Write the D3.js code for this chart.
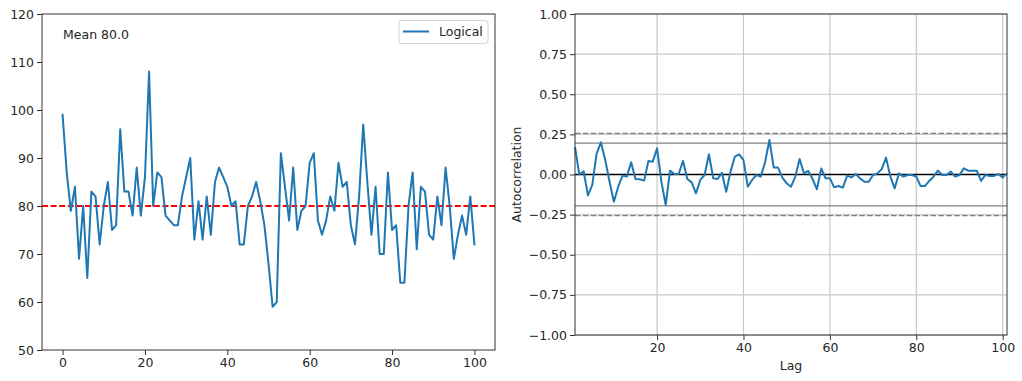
<!DOCTYPE html>
<meta charset="utf-8">
<script src="https://cdn.jsdelivr.net/npm/d3@7"></script>
<style>
body { margin: 0; background: #fff; }
text { font-family: "DejaVu Sans", sans-serif; fill: #262626; }
</style>
<body>
<script>
var width = 1022, height = 381;

// series (index 0..100)
var logical = [99, 87, 79, 84, 69, 80, 65, 83, 82, 72,
  80, 85, 75, 76, 96, 83, 83, 78, 88, 78,
  86, 108, 80, 87, 86, 78, 77, 76, 76, 82,
  86, 90, 73, 81, 73, 82, 74, 85, 88, 86,
  84, 80, 81, 72, 72, 80, 82, 85, 81, 76,
  68, 59, 60, 91, 84, 77, 88, 75, 79, 80,
  89, 91, 77, 74, 77, 82, 79, 89, 84, 85,
  76, 72, 82, 97, 85, 74, 84, 70, 70, 87,
  75, 76, 64, 64, 80, 87, 71, 84, 83, 74,
  73, 82, 76, 88, 80, 69, 74, 78, 74, 82, 72];
var meanValue = 80.0;

// autocorrelation (lag 1..101)
var acf = [0.17, 0.00, 0.02, -0.13, -0.065, 0.13, 0.20, 0.09, -0.045, -0.17,
  -0.076, -0.007, -0.013, 0.076, -0.028, -0.03, -0.038, 0.084, 0.08, 0.163,
  -0.045, -0.19, 0.024, 0.003, 0.003, 0.084, -0.028, -0.049, -0.117, -0.034,
  -0.003, 0.126, -0.024, -0.028, 0.011, -0.107, 0.018, 0.111, 0.126, 0.09,
  -0.076, -0.034, -0.003, -0.013, 0.076, 0.215, 0.043, 0.043, -0.02, -0.055,
  -0.076, -0.013, 0.097, 0.007, 0.022, -0.028, -0.092, 0.038, -0.024, -0.024,
  -0.08, -0.072, -0.082, -0.007, -0.018, 0.003, -0.024, -0.045, -0.045, -0.003,
  0.007, 0.034, 0.105, -0.013, -0.086, 0.007, -0.013, -0.003, -0.003, -0.013,
  -0.072, -0.072, -0.04, -0.013, 0.024, -0.003, -0.003, 0.018, -0.013, -0.003,
  0.038, 0.024, 0.024, 0.024, -0.04, -0.003, -0.009, -0.009, 0.003, -0.018, 0.007];
var confBands = [{z: 1.959963984540054, dash: null}, {z: 2.5758293035489004, dash: "5.5,2.4"}];

var leftTicksY = [50, 60, 70, 80, 90, 100, 110, 120];
var leftTicksX = [0, 20, 40, 60, 80, 100];
var rightTicksY = [-1, -0.75, -0.5, -0.25, 0, 0.25, 0.5, 0.75, 1];
var rightTicksX = [20, 40, 60, 80, 100];

var blue = "#1f77b4";
var svg = d3.select("body").append("svg")
    .attr("width", width).attr("height", height);

function styleAxis(g) {
  g.select(".domain").remove();
  g.selectAll(".tick line").attr("stroke", "#333").attr("stroke-width", 1);
  g.selectAll(".tick text").attr("font-size", "12.5px").attr("fill", "#262626");
}
var minus = function(s) { return s.replace("-", "\u2212"); };

// ---------- left panel ----------
var L = {x0: 42, x1: 495, y0: 14, y1: 350};
var xL = d3.scaleLinear().domain([-5, 105]).range([L.x0, L.x1]);
var yL = d3.scaleLinear().domain([50, 120]).range([L.y1, L.y0]);
var left = svg.append("g");

left.append("line")
    .attr("x1", L.x0).attr("x2", L.x1)
    .attr("y1", yL(meanValue)).attr("y2", yL(meanValue))
    .attr("stroke", "red").attr("stroke-width", 2)
    .attr("stroke-dasharray", "6,2.6");

left.append("path")
    .datum(logical)
    .attr("fill", "none").attr("stroke", blue).attr("stroke-width", 2)
    .attr("stroke-linejoin", "round").attr("stroke-linecap", "square")
    .attr("d", d3.line().x(function(d, i) { return xL(i); }).y(function(d) { return yL(d); }));

left.append("rect")
    .attr("x", L.x0).attr("y", L.y0)
    .attr("width", L.x1 - L.x0).attr("height", L.y1 - L.y0)
    .attr("fill", "none").attr("stroke", "#333").attr("stroke-width", 1);

left.append("g").attr("transform", "translate(0," + L.y1 + ")")
    .call(d3.axisBottom(xL).tickValues(leftTicksX).tickSize(5).tickPadding(3.5))
    .call(styleAxis);
left.append("g").attr("transform", "translate(" + L.x0 + ",0)")
    .call(d3.axisLeft(yL).tickValues(leftTicksY).tickSize(5).tickPadding(3))
    .call(styleAxis);

left.append("text")
    .attr("x", 63).attr("y", 38.5)
    .attr("font-size", "12.5px")
    .text("Mean " + meanValue.toFixed(1));

// legend
var lg = left.append("g");
lg.append("rect")
    .attr("x", 399).attr("y", 20.5).attr("width", 89).attr("height", 23)
    .attr("rx", 2.5).attr("fill", "#fff").attr("stroke", "#d5d5d5");
lg.append("line")
    .attr("x1", 403).attr("x2", 429).attr("y1", 31.5).attr("y2", 31.5)
    .attr("stroke", blue).attr("stroke-width", 2);
lg.append("text")
    .attr("x", 439).attr("y", 36)
    .attr("font-size", "12.5px")
    .text("Logical");

// ---------- right panel ----------
var R = {x0: 575, x1: 1007, y0: 14, y1: 335};
var xR = d3.scaleLinear().domain([1, acf.length]).range([R.x0, R.x1]);
var yR = d3.scaleLinear().domain([-1, 1]).range([R.y1, R.y0]);
var right = svg.append("g");

// grid
right.append("g").selectAll("line").data(rightTicksX).enter().append("line")
    .attr("x1", function(d) { return xR(d); }).attr("x2", function(d) { return xR(d); })
    .attr("y1", R.y0).attr("y2", R.y1)
    .attr("stroke", "#c8c8c8").attr("stroke-width", 1.2);
right.append("g").selectAll("line").data(rightTicksY).enter().append("line")
    .attr("x1", R.x0).attr("x2", R.x1)
    .attr("y1", function(d) { return yR(d); }).attr("y2", function(d) { return yR(d); })
    .attr("stroke", "#c8c8c8").attr("stroke-width", 1.2);

// confidence bands
var n = acf.length;
confBands.forEach(function(b) {
  [1, -1].forEach(function(s) {
    right.append("line")
        .attr("x1", R.x0).attr("x2", R.x1)
        .attr("y1", yR(s * b.z / Math.sqrt(n))).attr("y2", yR(s * b.z / Math.sqrt(n)))
        .attr("stroke", "#808080").attr("stroke-width", 1.3)
        .attr("stroke-dasharray", b.dash);
  });
});
right.append("line")
    .attr("x1", R.x0).attr("x2", R.x1)
    .attr("y1", yR(0)).attr("y2", yR(0))
    .attr("stroke", "#000").attr("stroke-width", 1.6);

right.append("path")
    .datum(acf)
    .attr("fill", "none").attr("stroke", blue).attr("stroke-width", 2)
    .attr("stroke-linejoin", "round")
    .attr("d", d3.line().x(function(d, i) { return xR(i + 1); }).y(function(d) { return yR(d); }));

right.append("rect")
    .attr("x", R.x0).attr("y", R.y0)
    .attr("width", R.x1 - R.x0).attr("height", R.y1 - R.y0)
    .attr("fill", "none").attr("stroke", "#333").attr("stroke-width", 1);

right.append("g").attr("transform", "translate(0," + R.y1 + ")")
    .call(d3.axisBottom(xR).tickValues(rightTicksX).tickSize(5).tickPadding(3.5))
    .call(styleAxis);
right.append("g").attr("transform", "translate(" + R.x0 + ",0)")
    .call(d3.axisLeft(yR).tickValues(rightTicksY).tickSize(5).tickPadding(3)
      .tickFormat(function(d) { return minus(d3.format(".2f")(d)); }))
    .call(styleAxis);

right.append("text")
    .attr("x", (R.x0 + R.x1) / 2).attr("y", 370)
    .attr("text-anchor", "middle").attr("font-size", "12.5px")
    .text("Lag");
right.append("text")
    .attr("transform", "translate(521," + ((R.y0 + R.y1) / 2) + ")rotate(-90)")
    .attr("text-anchor", "middle").attr("font-size", "12.5px")
    .text("Autocorrelation");
</script>
</body>
</html>
